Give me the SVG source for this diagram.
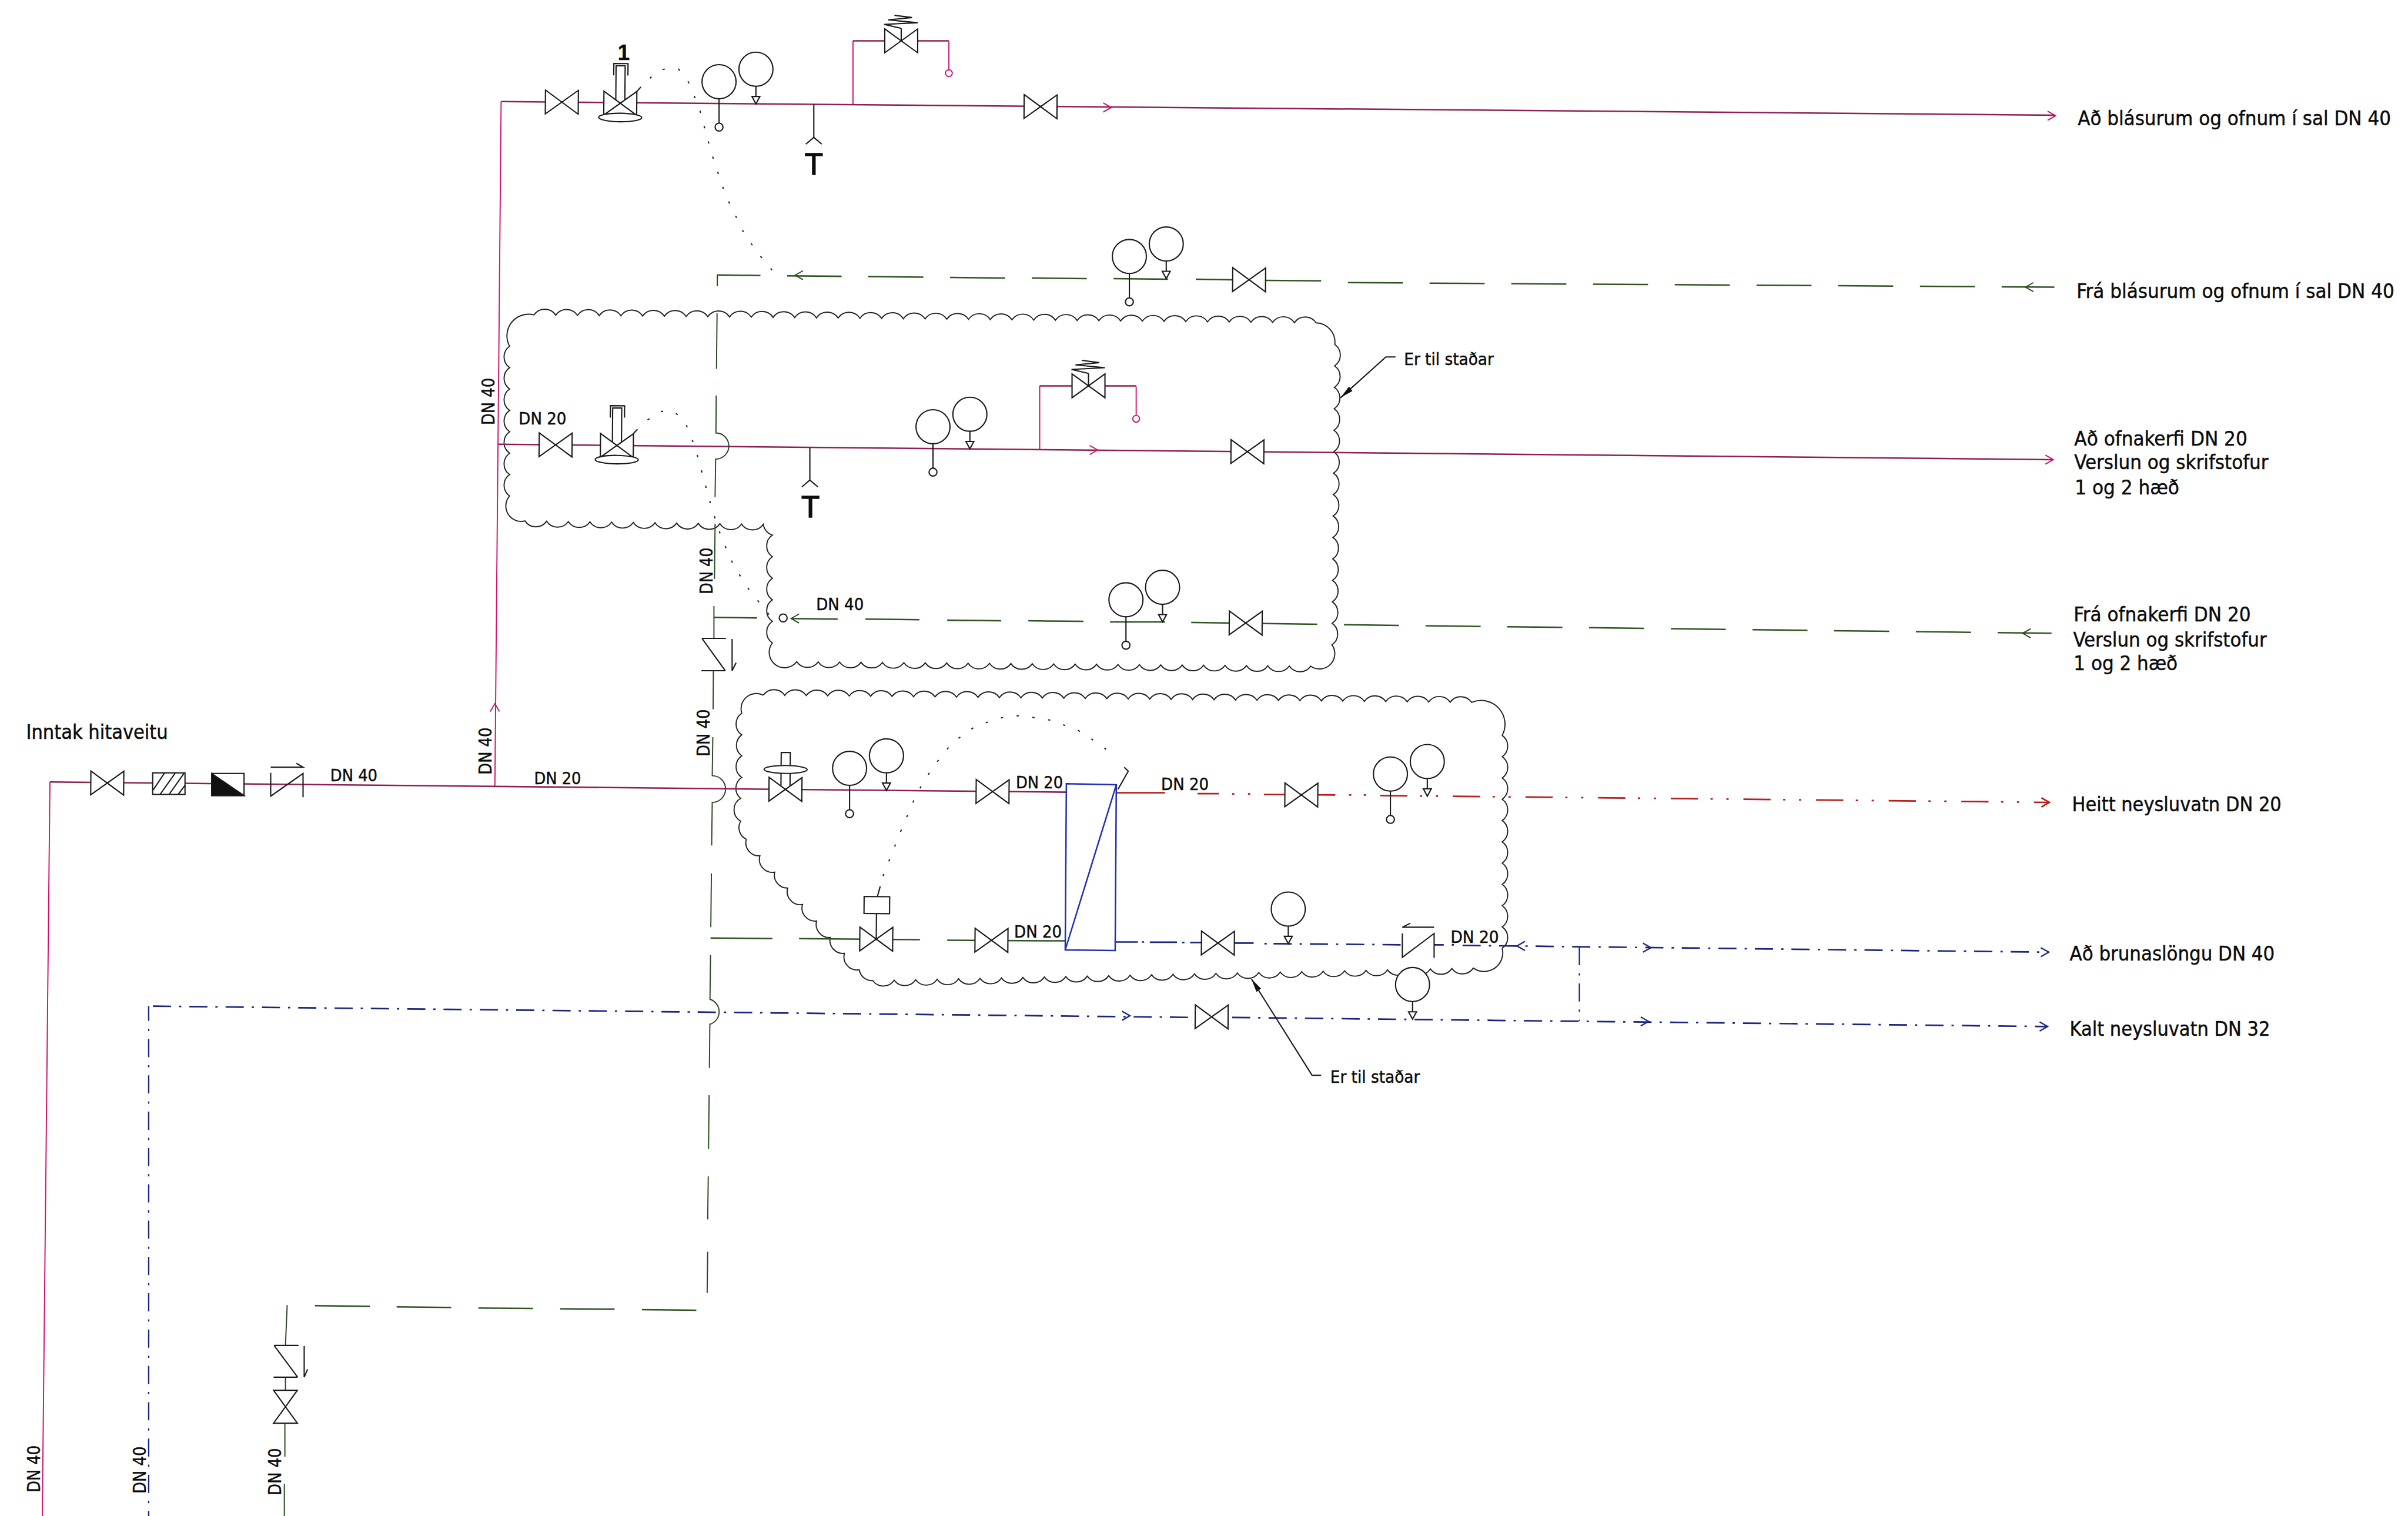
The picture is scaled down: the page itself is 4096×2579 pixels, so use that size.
<svg xmlns="http://www.w3.org/2000/svg" width="4096" height="2579" viewBox="0 0 4096 2579">
<style>
text{font-family:"DejaVu Sans","Liberation Sans",sans-serif;fill:#0c0c0c;stroke:#0c0c0c;stroke-width:.5px}
.lb{font-size:35px;font-family:"DejaVu Sans Condensed","DejaVu Sans",sans-serif}
.dn{font-size:29px;font-family:"DejaVu Sans Condensed","DejaVu Sans",sans-serif}
.rd{font-size:32px}
.T{font-family:"Liberation Sans",sans-serif;font-size:53px;text-anchor:middle;stroke-width:1.5px}
.one{font-family:"Liberation Sans",sans-serif;font-weight:bold;font-size:38px;text-anchor:middle}
.s{fill:none;stroke:#1a1a1a;stroke-width:2.2}
.cl{fill:none;stroke:#222;stroke-width:2}
.ph{fill:none;stroke:#8e1f55;stroke-width:2.6}
.pv{fill:none;stroke:#d0106e;stroke-width:2}
.g{fill:none;stroke:#2c5520;stroke-width:2.6}
.gv{fill:none;stroke:#27461f;stroke-width:2}
.b{fill:none;stroke:#1a2580;stroke-width:2.8}
.bd{stroke-dasharray:32 14 4 14}
.r{fill:none;stroke:#b8201c;stroke-width:2.8}
.rdash{stroke-dasharray:48 22 4 24 4 26}
.gd{stroke-dasharray:97 47}
.dot{fill:none;stroke:#222;stroke-width:2.2;stroke-dasharray:4 24}
</style>
<defs>
<path id="v" d="M-29-21L29 21V-21L-29 21Z" fill="#fff"/>
<g id="gt"><circle r="30" cy="0" fill="#fff"/><path d="M0 30V73"/><circle cy="80" r="7" fill="#fff"/></g>
<g id="gp"><circle r="30" fill="#fff"/><path d="M0 30V48"/><path d="M-7 48H7L0 61Z" fill="#fff"/></g>
<path id="ch" d="M-14-8L0 0L-14 8" fill="none"/>
<g id="cv"><path d="M-8-4V-66H8V-4"/><path d="M-12-49V-70H13V-49"/><use href="#v"/><path d="M29-21L36-29"/><ellipse cy="25" rx="38" ry="7.5" fill="#fff"/></g>
<path id="spring" d="M0-22L-30-29L29-32L-23-37L19-41L-12-45" fill="none"/>
</defs>
<g transform="scale(.96535)">
<g id="clouds">
<path id="cloud-a" class="cl" d="M941 555a23 23 0 0 1 38.28 .39a23 23 0 0 1 38.28 .39a23 23 0 0 1 38.28 .39a23 23 0 0 1 38.28 .39a23 23 0 0 1 38.28 .39a23 23 0 0 1 38.28 .39a23 23 0 0 1 38.28 .39a23 23 0 0 1 38.28 .39a23 23 0 0 1 38.28 .39a23 23 0 0 1 38.28 .39a23 23 0 0 1 38.28 .39a23 23 0 0 1 38.28 .39a23 23 0 0 1 38.28 .39a23 23 0 0 1 38.28 .39a23 23 0 0 1 38.28 .39a23 23 0 0 1 38.28 .39a23 23 0 0 1 38.28 .39a23 23 0 0 1 38.28 .39a23 23 0 0 1 38.28 .39a23 23 0 0 1 38.28 .39a23 23 0 0 1 38.28 .39a23 23 0 0 1 38.28 .39a23 23 0 0 1 38.28 .39a23 23 0 0 1 38.28 .39a23 23 0 0 1 38.28 .39a23 23 0 0 1 38.28 .39a23 23 0 0 1 38.28 .39a23 23 0 0 1 38.28 .39a23 23 0 0 1 38.28 .39a23 23 0 0 1 38.28 .39a23 23 0 0 1 38.28 .39a23 23 0 0 1 38.28 .39a23 23 0 0 1 38.28 .39a23 23 0 0 1 38.28 .39a23 23 0 0 1 38.28 .39a23 23 0 0 1 38.28 .39
A34 34 0 0 1 2352 607
a23 23 0 0 1 -.36 37.8a23 23 0 0 1 -.36 37.8a23 23 0 0 1 -.36 37.8a23 23 0 0 1 -.36 37.8a23 23 0 0 1 -.36 37.8a23 23 0 0 1 -.36 37.8a23 23 0 0 1 -.36 37.8a23 23 0 0 1 -.36 37.8a23 23 0 0 1 -.36 37.8a23 23 0 0 1 -.36 37.8a23 23 0 0 1 -.36 37.8a23 23 0 0 1 -.36 37.8a23 23 0 0 1 -.36 37.8a23 23 0 0 1 -.36 37.8
A27 27 0 0 1 2309.5 1174
a23 23 0 0 1 -37.73 -.33a23 23 0 0 1 -37.73 -.33a23 23 0 0 1 -37.73 -.33a23 23 0 0 1 -37.73 -.33a23 23 0 0 1 -37.73 -.33a23 23 0 0 1 -37.73 -.33a23 23 0 0 1 -37.73 -.33a23 23 0 0 1 -37.73 -.33a23 23 0 0 1 -37.73 -.33a23 23 0 0 1 -37.73 -.33a23 23 0 0 1 -37.73 -.33a23 23 0 0 1 -37.73 -.33a23 23 0 0 1 -37.73 -.33a23 23 0 0 1 -37.73 -.33a23 23 0 0 1 -37.73 -.33a23 23 0 0 1 -37.73 -.33a23 23 0 0 1 -37.73 -.33a23 23 0 0 1 -37.73 -.33a23 23 0 0 1 -37.73 -.33a23 23 0 0 1 -37.73 -.33a23 23 0 0 1 -37.73 -.33a23 23 0 0 1 -37.73 -.33a23 23 0 0 1 -37.73 -.33a23 23 0 0 1 -37.73 -.33
A27 27 0 0 1 1361 1133
a23 23 0 0 1 0 -38a23 23 0 0 1 0 -38a23 23 0 0 1 0 -38a23 23 0 0 1 0 -38a23 23 0 0 1 0 -38
A23 23 0 0 1 1345 924
a23 23 0 0 1 -38.18 -.55a23 23 0 0 1 -38.18 -.55a23 23 0 0 1 -38.18 -.55a23 23 0 0 1 -38.18 -.55a23 23 0 0 1 -38.18 -.55a23 23 0 0 1 -38.18 -.55a23 23 0 0 1 -38.18 -.55a23 23 0 0 1 -38.18 -.55a23 23 0 0 1 -38.18 -.55a23 23 0 0 1 -38.18 -.55a23 23 0 0 1 -38.18 -.55
A27 27 0 0 1 898 874
a23 23 0 0 1 0 -37.7a23 23 0 0 1 0 -37.7a23 23 0 0 1 0 -37.7a23 23 0 0 1 0 -37.7a23 23 0 0 1 0 -37.7a23 23 0 0 1 0 -37.7a23 23 0 0 1 0 -37.7
A38 38 0 0 1 941 555"/>
<path id="cloud-b" class="cl" d="M1345 1225a23 23 0 0 1 37.82 .39a23 23 0 0 1 37.82 .39a23 23 0 0 1 37.82 .39a23 23 0 0 1 37.82 .39a23 23 0 0 1 37.82 .39a23 23 0 0 1 37.82 .39a23 23 0 0 1 37.82 .39a23 23 0 0 1 37.82 .39a23 23 0 0 1 37.82 .39a23 23 0 0 1 37.82 .39a23 23 0 0 1 37.82 .39a23 23 0 0 1 37.82 .39a23 23 0 0 1 37.82 .39a23 23 0 0 1 37.82 .39a23 23 0 0 1 37.82 .39a23 23 0 0 1 37.82 .39a23 23 0 0 1 37.82 .39a23 23 0 0 1 37.82 .39a23 23 0 0 1 37.82 .39a23 23 0 0 1 37.82 .39a23 23 0 0 1 37.82 .39a23 23 0 0 1 37.82 .39a23 23 0 0 1 37.82 .39a23 23 0 0 1 37.82 .39a23 23 0 0 1 37.82 .39a23 23 0 0 1 37.82 .39a23 23 0 0 1 37.82 .39a23 23 0 0 1 37.82 .39a23 23 0 0 1 37.82 .39a23 23 0 0 1 37.82 .39a23 23 0 0 1 37.82 .39a23 23 0 0 1 37.82 .39a23 23 0 0 1 37.82 .39
A42 42 0 0 1 2647 1296
a23 23 0 0 1 0 37.5a23 23 0 0 1 0 37.5a23 23 0 0 1 0 37.5a23 23 0 0 1 0 37.5a23 23 0 0 1 0 37.5a23 23 0 0 1 0 37.5a23 23 0 0 1 0 37.5a23 23 0 0 1 0 37.5a23 23 0 0 1 0 37.5a23 23 0 0 1 0 37.5
A33 33 0 0 1 2596 1706
a23 23 0 0 1 -37.79 .79a23 23 0 0 1 -37.79 .79a23 23 0 0 1 -37.79 .79a23 23 0 0 1 -37.79 .79a23 23 0 0 1 -37.79 .79a23 23 0 0 1 -37.79 .79a23 23 0 0 1 -37.79 .79a23 23 0 0 1 -37.79 .79a23 23 0 0 1 -37.79 .79a23 23 0 0 1 -37.79 .79a23 23 0 0 1 -37.79 .79a23 23 0 0 1 -37.79 .79a23 23 0 0 1 -37.79 .79a23 23 0 0 1 -37.79 .79a23 23 0 0 1 -37.79 .79a23 23 0 0 1 -37.79 .79a23 23 0 0 1 -37.79 .79a23 23 0 0 1 -37.79 .79a23 23 0 0 1 -37.79 .79a23 23 0 0 1 -37.79 .79a23 23 0 0 1 -37.79 .79a23 23 0 0 1 -37.79 .79a23 23 0 0 1 -37.79 .79a23 23 0 0 1 -37.79 .79a23 23 0 0 1 -37.79 .79a23 23 0 0 1 -37.79 .79a23 23 0 0 1 -37.79 .79a23 23 0 0 1 -37.79 .79
A23 23 0 0 1 1514 1709A23 23 0 0 1 1488 1680A23 23 0 0 1 1463 1652A23 23 0 0 1 1439 1623A23 23 0 0 1 1414 1594A23 23 0 0 1 1388 1565A23 23 0 0 1 1365 1537A23 23 0 0 1 1339 1508A23 23 0 0 1 1315 1479A23 23 0 0 1 1305 1447A23 23 0 0 1 1305 1407A23 23 0 0 1 1307 1370A23 23 0 0 1 1307 1332A23 23 0 0 1 1307 1295A23 23 0 0 1 1307 1257
A27 27 0 0 1 1345 1225"/>
</g>
<g id="connectors">
<path class="pv" d="M74.5 2672L88 1378M872 1386L883 179M1503 185V72M1672 73V123M1832 792V680M2002 681V732"/>
<path class="ph" d="M88 1378L1879 1396M883 179L3621 203M1503 72H1672M878 783L3617 810M1832 680H2002"/>
<use href="#ch" class="pv" transform="translate(872 1240) rotate(-90)"/>
<use href="#ch" class="pv" transform="translate(1958 189.5)"/>
<use href="#ch" class="pv" transform="translate(3622 204)"/>
<use href="#ch" class="pv" transform="translate(1934 793)"/>
<use href="#ch" class="pv" transform="translate(3618 810)"/>
<path class="gv" d="M1264 504V484M1263.5 552L1262.5 650M1262 697L1261.5 763A23 23 0 0 1 1261 809L1260 876M1260 923L1259 1020M1258 1068L1258 1125M1257 1182L1256.5 1250M1256 1299L1255 1367A23 23 0 0 1 1255 1414L1254 1490M1253.5 1539L1252.5 1634M1252 1683L1251 1761A23 23 0 0 1 1250.8 1805L1250 1882M1249.5 1930L1248.5 2025M1248 2073L1247 2149M1247 2206L1246 2279M506 2300L503 2371M503 2427V2451M502 2508V2567M501 2615V2672"/>
<path class="g" d="M1264 484.5L1340 485.5M1387 486L1483 487M1530 487.5L1627 488.5M1674 489L1771 490M1818 490L1915 491M1962 491L2058 492M2107 492L2172 493M2230 494L2328 495M555 2301L652 2302M699 2303L795 2304M843 2305L939 2306M987 2306.5L1083 2307M1131 2308L1227 2309M1252 1653L1361 1654M1408 1654L1621 1656M1669 1657L1876 1658M1258 1088L1334 1089M1394 1090L1476 1091M1525 1091L1620 1092M1669 1093L1764 1094M1812 1094L1909 1095M1956 1096L2053 1096M2099 1097L2321 1100"/>
<path class="g gd" d="M2375 498L3620 506M2368 1101L3615 1116"/>
<use href="#ch" class="gv" transform="translate(1401 485) rotate(180)"/>
<use href="#ch" class="gv" transform="translate(3569 506) rotate(180)"/>
<use href="#ch" class="gv" transform="translate(1394 1090) rotate(180)"/>
<use href="#ch" class="gv" transform="translate(3564 1116) rotate(180)"/>
<path class="r" d="M1967 1397H2053M2110 1398.5H2148M2171 1399h4M2199 1399h4M2227 1400L2353 1401M2377 1401h4M2403 1401h4"/>
<path class="r rdash" d="M2432 1402L3611 1414"/>
<use href="#ch" class="r" transform="translate(3611 1414)"/>
<path class="b" d="M1965 1660H2005M2012 1660h4M2026 1660.5H2074M2083 1661h4M2097 1661H2118M2175 1662H2209M2228 1663h4M2527 1665H2544M2558 1665h4"/>
<path class="b bd" d="M2244 1663L2471 1665"/>
<path class="b" style="stroke-dasharray:32 14.4 4 14" d="M2577 1666L3610 1678"/>
<path class="b bd" style="stroke-width:2.4;stroke-dashoffset:6" d="M262 1773V2672"/>
<path class="b bd" style="stroke-dashoffset:56.5" d="M262 1773L2106 1793"/>
<path class="b" style="stroke-dasharray:32 14 4 14.3" d="M2171 1793L3608 1809"/>
<path class="b bd" style="stroke-width:2.4" d="M2783 1669V1799"/>
<use href="#ch" class="b" style="stroke-width:2.4" transform="translate(1991 1790)"/>
<use href="#ch" class="b" style="stroke-width:2.4" transform="translate(2673 1667) rotate(180)"/>
<use href="#ch" class="b" style="stroke-width:2.4" transform="translate(2909 1670)"/>
<use href="#ch" class="b" style="stroke-width:2.4" transform="translate(3610 1678)"/>
<use href="#ch" class="b" style="stroke-width:2.4" transform="translate(2905 1800)"/>
<use href="#ch" class="b" style="stroke-width:2.4" transform="translate(3608 1809)"/>
<path class="dot" d="M1145 138L1160 124L1180 120L1196 122L1211 140L1232 190L1253 268L1278 343L1313 415L1345 458L1368 485"/>
<path class="dot" d="M1141 740L1164 725L1188 725L1208 746L1218 770L1227 796L1234 822L1248 873L1255 898L1271 947L1293 997L1321 1041L1339 1063L1359 1088"/>
<path class="dot" d="M1556 1544L1585 1470L1615 1399L1643 1353L1678 1309L1720 1279L1771 1263L1799 1261L1850 1269L1898 1286L1943 1315L1965 1336"/>
<path class="s" d="M1546 1580L1551 1562M1981 1352L1988 1359L1970 1391"/>
<path class="s" d="M1434 184V242M1420 254L1434 242L1448 254M1427 789V846M1413 858L1427 846L1441 858"/>
<path class="s" d="M2459 629H2442L2362 701M2328 1895H2312L2205 1725"/>
<path d="M2362 701L2383 689L2377 681Z M2205 1725L2222 1742L2214 1748Z" fill="#111"/>
</g>
<g id="inlet-valve" class="s" transform="translate(189 1380) rotate(.5)"><use href="#v"/></g>
<g id="filter" class="s"><rect x="269" y="1362" width="57" height="38" fill="#fff"/><path d="M270 1392L290 1362M282 1400L309 1362M298 1400L324 1363M314 1400L326 1384"/></g>
<g id="meter" class="s"><rect x="373" y="1363" width="57" height="39" fill="#fff"/><path d="M373 1363L430 1402H373Z" fill="#111"/></g>
<g id="inlet-check" class="s"><path d="M477 1362V1403L534 1363V1405M477 1352H534L522 1345"/></g>
<g id="valve-1" class="s" transform="translate(990 180) rotate(.5)"><use href="#v"/></g>
<g id="control-valve-1" class="s" transform="translate(1093 182) rotate(.5)"><use href="#cv"/></g>
<g id="gauge-1a" class="s" transform="translate(1267 144)"><use href="#gt"/></g>
<g id="gauge-1b" class="s" transform="translate(1332 122)"><use href="#gp"/></g>
<g id="safety-1" class="s" transform="translate(1588 72)"><use href="#v"/><use href="#spring"/><path d="M0 0V-22"/></g>
<circle id="drain-1" cx="1672" cy="129" r="6" fill="#fff" class="pv" style="fill:#fff"/>
<g id="valve-2" class="s" transform="translate(1833.5 188) rotate(.5)"><use href="#v"/></g>
<g id="gauge-2a" class="s" transform="translate(1990 452)"><use href="#gt"/></g>
<g id="gauge-2b" class="s" transform="translate(2055 430)"><use href="#gp"/></g>
<g id="valve-3" class="s" transform="translate(2201 493) rotate(.5)"><use href="#v"/></g>
<g id="valve-4" class="s" transform="translate(979 784) rotate(.5)"><use href="#v"/></g>
<g id="control-valve-2" class="s" transform="translate(1087 785) rotate(.5)"><use href="#cv"/></g>
<g id="gauge-3a" class="s" transform="translate(1644 752)"><use href="#gt"/></g>
<g id="gauge-3b" class="s" transform="translate(1709 730)"><use href="#gp"/></g>
<g id="safety-2" class="s" transform="translate(1918 680)"><use href="#v"/><use href="#spring"/><path d="M0 0V-22"/></g>
<circle id="drain-2" cx="2002" cy="738" r="6" class="pv" style="fill:#fff"/>
<g id="valve-5" class="s" transform="translate(2198 796) rotate(.5)"><use href="#v"/></g>
<g id="gauge-4a" class="s" transform="translate(1984 1057)"><use href="#gt"/></g>
<g id="gauge-4b" class="s" transform="translate(2048.5 1035)"><use href="#gp"/></g>
<g id="valve-6" class="s" transform="translate(2195 1098) rotate(.5)"><use href="#v"/></g>
<circle id="sensor" cx="1380" cy="1089" r="7" class="s" style="fill:#fff"/>
<g id="check-1" class="s"><path d="M1237 1125H1279M1237 1125L1278 1182M1236 1182H1278M1290 1126V1182L1297 1168"/></g>
<g id="valve-7" class="s" transform="translate(1384 1391) rotate(.5)"><path d="M-8-28V0M8-28V0M-8-43V-65H8V-43" fill="#fff"/><ellipse cy="-35" rx="38" ry="7" fill="#fff"/><use href="#v"/></g>
<g id="gauge-5a" class="s" transform="translate(1497 1354)"><use href="#gt"/></g>
<g id="gauge-5b" class="s" transform="translate(1562 1332)"><use href="#gp"/></g>
<g id="valve-8" class="s" transform="translate(1749 1395) rotate(.5)"><use href="#v"/></g>
<g id="heat-exchanger" style="fill:none;stroke:#1f2fb4;stroke-width:2.6"><path d="M1879 1381L1967 1383L1965 1675L1877 1674ZM1877 1674L1967 1383"/></g>
<g id="valve-9" class="s" transform="translate(1544 1655) rotate(.5)"><path d="M0 0V-45"/><rect x="-22" y="-75" width="45" height="30" fill="#fff"/><use href="#v"/></g>
<g id="valve-10" class="s" transform="translate(1747 1657) rotate(.5)"><use href="#v"/></g>
<g id="valve-11" class="s" transform="translate(2293 1401) rotate(.5)"><use href="#v"/></g>
<g id="gauge-6a" class="s" transform="translate(2450 1364)"><use href="#gt"/></g>
<g id="gauge-6b" class="s" transform="translate(2515 1342)"><use href="#gp"/></g>
<g id="valve-12" class="s" transform="translate(2146 1662) rotate(.5)"><use href="#v"/></g>
<g id="gauge-7" class="s" transform="translate(2270 1602)"><use href="#gp"/></g>
<g id="check-2" class="s"><path d="M2471 1645V1687L2527 1645V1688M2527 1634H2471L2485 1627"/></g>
<g id="gauge-8" class="s" transform="translate(2489 1735)"><use href="#gp"/></g>
<g id="valve-13" class="s" transform="translate(2135 1792) rotate(.5)"><use href="#v"/></g>
<g id="check-3" class="s"><path d="M483 2371H526M483 2371L524.5 2427M482 2427H524M536 2372V2427L542 2413"/></g>
<g id="valve-14" class="s" transform="translate(503 2479) rotate(90)"><use href="#v"/></g>
<g id="labels">
<text class="one" x="1099" y="106">1</text>
<text class="T" x="1434" y="308">T</text>
<text class="T" x="1428" y="912">T</text>
<text class="lb" x="46" y="1302" textLength="250" lengthAdjust="spacingAndGlyphs">Inntak hitaveitu</text>
<text class="lb" x="3661" y="221" textLength="552" lengthAdjust="spacingAndGlyphs">Að blásurum og ofnum í sal DN 40</text>
<text class="lb" x="3659" y="525" textLength="560" lengthAdjust="spacingAndGlyphs">Frá blásurum og ofnum í sal DN 40</text>
<text class="lb" x="3655" y="785" textLength="305" lengthAdjust="spacingAndGlyphs">Að ofnakerfi DN 20</text>
<text class="lb" x="3655" y="827" textLength="342" lengthAdjust="spacingAndGlyphs">Verslun og skrifstofur</text>
<text class="lb" x="3656" y="871" textLength="184" lengthAdjust="spacingAndGlyphs">1 og 2 hæð</text>
<text class="lb" x="3654" y="1095" textLength="312" lengthAdjust="spacingAndGlyphs">Frá ofnakerfi DN 20</text>
<text class="lb" x="3653" y="1139" textLength="341" lengthAdjust="spacingAndGlyphs">Verslun og skrifstofur</text>
<text class="lb" x="3654" y="1181" textLength="183" lengthAdjust="spacingAndGlyphs">1 og 2 hæð</text>
<text class="lb" x="3651" y="1430" textLength="369" lengthAdjust="spacingAndGlyphs">Heitt neysluvatn DN 20</text>
<text class="lb" x="3647" y="1693" textLength="361" lengthAdjust="spacingAndGlyphs">Að brunaslöngu DN 40</text>
<text class="lb" x="3647" y="1825" textLength="353" lengthAdjust="spacingAndGlyphs">Kalt neysluvatn DN 32</text>
<text class="dn" x="2474" y="643" textLength="158" lengthAdjust="spacingAndGlyphs">Er til staðar</text>
<text class="dn" x="2344" y="1908" textLength="158" lengthAdjust="spacingAndGlyphs">Er til staðar</text>
<text class="dn" x="582" y="1377" textLength="83" lengthAdjust="spacingAndGlyphs">DN 40</text>
<text class="dn" x="941" y="1382" textLength="83" lengthAdjust="spacingAndGlyphs">DN 20</text>
<text class="dn" x="914" y="748" textLength="84" lengthAdjust="spacingAndGlyphs">DN 20</text>
<text class="dn" x="1438" y="1075" textLength="84" lengthAdjust="spacingAndGlyphs">DN 40</text>
<text class="dn" x="1790" y="1389" textLength="83" lengthAdjust="spacingAndGlyphs">DN 20</text>
<text class="dn" x="2046" y="1392" textLength="84" lengthAdjust="spacingAndGlyphs">DN 20</text>
<text class="dn" x="1787" y="1652" textLength="84" lengthAdjust="spacingAndGlyphs">DN 20</text>
<text class="dn" x="2556" y="1662" textLength="85" lengthAdjust="spacingAndGlyphs">DN 20</text>
<text class="rd" transform="translate(871 749) rotate(-90)" textLength="83" lengthAdjust="spacingAndGlyphs">DN 40</text>
<text class="rd" transform="translate(866 1365) rotate(-90)" textLength="83" lengthAdjust="spacingAndGlyphs">DN 40</text>
<text class="rd" transform="translate(1255 1047) rotate(-90)" textLength="82" lengthAdjust="spacingAndGlyphs">DN 40</text>
<text class="rd" transform="translate(1250 1333) rotate(-90)" textLength="83" lengthAdjust="spacingAndGlyphs">DN 40</text>
<text class="rd" transform="translate(70 2630) rotate(-90)" textLength="83" lengthAdjust="spacingAndGlyphs">DN 40</text>
<text class="rd" transform="translate(257 2632) rotate(-90)" textLength="83" lengthAdjust="spacingAndGlyphs">DN 40</text>
<text class="rd" transform="translate(495.5 2635) rotate(-90)" textLength="83" lengthAdjust="spacingAndGlyphs">DN 40</text>
</g>
</g>
</svg>
